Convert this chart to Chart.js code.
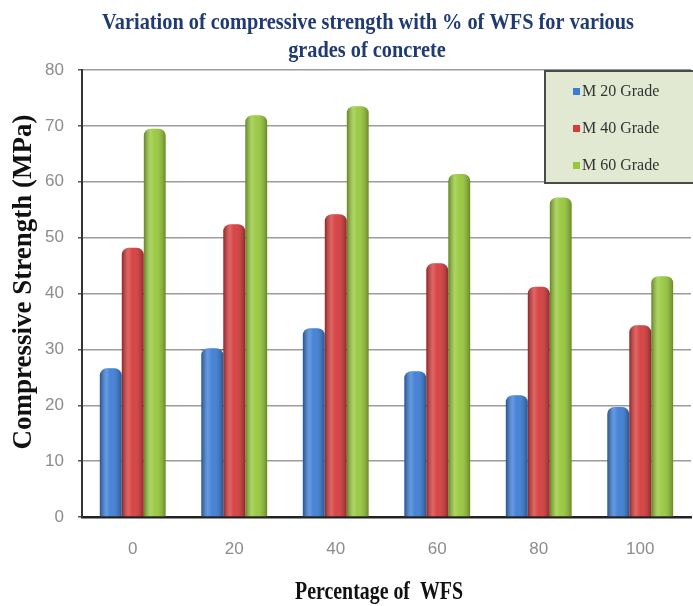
<!DOCTYPE html>
<html>
<head>
<meta charset="utf-8">
<script src="https://cdn.jsdelivr.net/npm/chart.js@4.4.1/dist/chart.umd.min.js"></script>
<style>
  html, body { margin: 0; padding: 0; background: #fff; }
  #wrap { width: 693px; height: 606px; position: relative; }
</style>
</head>
<body>
<div id="wrap"><canvas id="strengthChart"></canvas></div>
<script>
// % of waste foundry sand
const categories = ['0', '20', '40', '60', '80', '100'];
const seriesNames = ['M 20 Grade', 'M 40 Grade', 'M 60 Grade'];
const m20 = [26.6, 30.2, 33.8, 26.1, 21.8, 19.7];
const m40 = [48.2, 52.4, 54.2, 45.4, 41.2, 34.3];
const m60 = [69.5, 71.9, 73.5, 61.4, 57.2, 43.1];
const yTicks = [0, 10, 20, 30, 40, 50, 60, 70, 80];

const titleLines = ['Variation of compressive strength with % of WFS for various', 'grades of concrete'];
const xTitle = 'Percentage of  WFS';
const yTitle = 'Compressive Strength (MPa)';

const colors = ['#3b7dd6', '#d63a3a', '#97c83a'];
const serif = "'Liberation Serif', 'Times New Roman', serif";
const narrow = "'Liberation Sans Narrow', 'Liberation Sans', sans-serif";

// draw a condensed line of text (canvas scale on x)
function condensedText(ctx, text, cx, baseline, targetW, font, color) {
    ctx.save();
    ctx.font = font;
    const w = ctx.measureText(text).width;
    const sx = targetW / w;
    ctx.translate(cx, baseline);
    ctx.scale(sx, 1);
    ctx.fillStyle = color;
    ctx.textAlign = 'center';
    ctx.textBaseline = 'alphabetic';
    ctx.fillText(text, 0, 0);
    ctx.restore();
    return sx;
}

// cylinder-ish shading on top of every bar
const barShade = {
    id: 'barShade',
    afterDatasetsDraw(chart) {
        const ctx = chart.ctx;
        ctx.save();
        ctx.globalCompositeOperation = 'source-atop';
        chart.data.datasets.forEach((ds, i) => {
            chart.getDatasetMeta(i).data.forEach(bar => {
                const p = bar.getProps(['x', 'y', 'base', 'width'], true);
                const l = p.x - p.width / 2, r = p.x + p.width / 2;
                const g = ctx.createLinearGradient(l, 0, r, 0);
                g.addColorStop(0, 'rgba(0,0,0,0.35)');
                g.addColorStop(0.3, 'rgba(255,255,255,0.22)');
                g.addColorStop(0.5, 'rgba(255,255,255,0.05)');
                g.addColorStop(1, 'rgba(0,0,0,0.32)');
                ctx.fillStyle = g;
                ctx.fillRect(l, p.y, p.width, p.base - p.y);
            });
        });
        ctx.restore();
    }
};

// titles + boxed legend inside the plot
const decorations = {
    id: 'decorations',
    afterDraw(chart) {
        const ctx = chart.ctx;
        const sx = condensedText(ctx, titleLines[0], 368, 29, 532, 'bold 24px ' + serif, '#1f3b72');
        ctx.save();
        ctx.font = 'bold 24px ' + serif;
        ctx.translate(367, 57);
        ctx.scale(sx, 1);
        ctx.fillStyle = '#1f3b72';
        ctx.textAlign = 'center';
        ctx.fillText(titleLines[1], 0, 0);
        ctx.restore();

        condensedText(ctx, xTitle, 379, 599, 168, 'bold 26px ' + serif, '#111');

        ctx.save();
        ctx.translate(31, 282);
        ctx.rotate(-Math.PI / 2);
        ctx.font = 'bold 27px ' + serif;
        ctx.fillStyle = '#111';
        ctx.textAlign = 'center';
        ctx.textBaseline = 'alphabetic';
        ctx.fillText(yTitle, 0, 0);
        ctx.restore();

        // legend box
        ctx.save();
        ctx.fillStyle = '#e1e9d2';
        ctx.strokeStyle = '#4a4a4a';
        ctx.lineWidth = 2;
        ctx.fillRect(545, 71, 160, 112);
        ctx.strokeRect(545, 71, 160, 112);
        ctx.font = '16px ' + serif;
        ctx.textBaseline = 'middle';
        chart.data.datasets.forEach((ds, i) => {
            const cy = 91 + i * 37;
            ctx.fillStyle = ds.backgroundColor;
            ctx.fillRect(573, cy - 3, 7, 7);
            ctx.fillStyle = '#333';
            ctx.fillText(ds.label, 582, cy + 1);
        });
        ctx.restore();
    }
};

new Chart(document.getElementById('strengthChart'), {
    type: 'bar',
    data: {
        labels: categories,
        datasets: [
            { label: seriesNames[0], data: m20, backgroundColor: colors[0] },
            { label: seriesNames[1], data: m40, backgroundColor: colors[1] },
            { label: seriesNames[2], data: m60, backgroundColor: colors[2] }
        ]
    },
    options: {
        responsive: true,
        maintainAspectRatio: false,
        animation: false,
        layout: { padding: { top: 70, right: 2, left: 0, bottom: 0 } },
        datasets: {
            bar: { categoryPercentage: 0.65, barPercentage: 1.0, borderRadius: 7, borderWidth: 0 }
        },
        plugins: {
            legend: { display: false },
            title: { display: false },
            tooltip: { enabled: false }
        },
        scales: {
            x: {
                afterFit(scale) { scale.height = 89; },
                grid: { display: false, drawTicks: false },
                border: { display: true, color: '#222', width: 2.5 },
                ticks: { color: '#8c8c8c', padding: 22, font: { family: narrow, size: 17 } }
            },
            y: {
                min: yTicks[0],
                max: yTicks[yTicks.length - 1],
                afterFit(scale) { scale.width = 82; },
                afterBuildTicks(scale) { scale.ticks = yTicks.map(v => ({ value: v })); },
                grid: { color: '#9b9b9b', lineWidth: 1.5, tickLength: 4, tickColor: '#555' },
                border: { display: true, color: '#333', width: 2 },
                ticks: { color: '#8c8c8c', padding: 14, font: { family: narrow, size: 17 } }
            }
        }
    },
    plugins: [barShade, decorations]
});
</script>
</body>
</html>
